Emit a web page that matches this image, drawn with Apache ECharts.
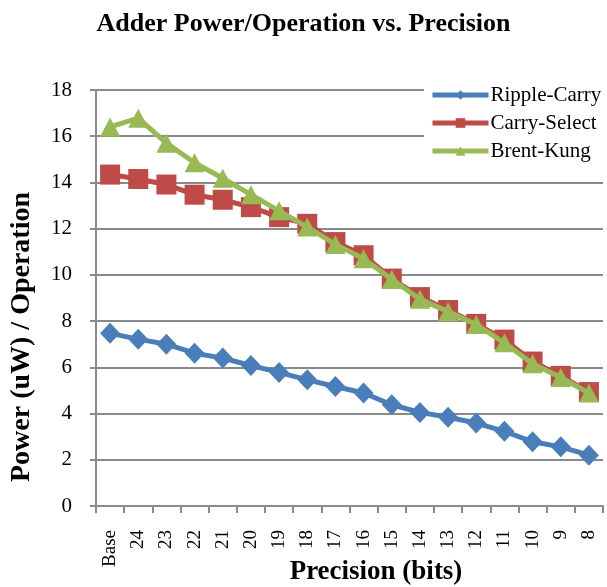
<!DOCTYPE html>
<html>
<head>
<meta charset="utf-8">
<script src="https://cdn.jsdelivr.net/npm/echarts@6/dist/echarts.min.js"></script>
<style>html,body{margin:0;padding:0;background:#fff;overflow:hidden}#c{width:607px;height:587px}</style>
</head>
<body>
<div id="c"></div>
<script>
const categories = ['Base','24','23','22','21','20','19','18','17','16','15','14','13','12','11','10','9','8'];
const rippleCarry = [7.47,7.22,7.0,6.61,6.4,6.08,5.78,5.46,5.17,4.89,4.38,4.05,3.84,3.59,3.23,2.78,2.56,2.2];
const carrySelect = [14.34,14.15,13.91,13.47,13.25,12.93,12.5,12.21,11.42,10.85,9.84,9.04,8.48,7.88,7.2,6.25,5.63,4.93];
const brentKung = [16.4,16.78,15.7,14.85,14.18,13.47,12.77,12.07,11.32,10.7,9.81,8.95,8.41,7.85,7.06,6.15,5.56,4.89];
const yTicks = [0,2,4,6,8,10,12,14,16,18];
const xAxisTitle = 'Precision (bits)';
const yAxisTitle = 'Power (uW) / Operation';

const serif = '"Liberation Serif","DejaVu Serif",serif';
const chart = echarts.init(document.getElementById('c'));
chart.setOption({
  animation: false,
  backgroundColor: '#fff',
  title: {
    text: 'Adder Power/Operation vs. Precision',
    left: 'center', top: 6,
    textStyle: {fontFamily: serif, fontWeight: 'bold', fontSize: 26, color: '#000'}
  },
  legend: {
    orient: 'vertical', left: 424, top: 82,
    backgroundColor: '#fff', padding: [2, 6, 8, 6],
    itemWidth: 56, itemHeight: 12, itemGap: 6,
    lineStyle: {width: 5},
    textStyle: {fontFamily: serif, fontSize: 21, lineHeight: 22, color: '#000', padding: [0,0,0,-3]},
    data: ['Ripple-Carry','Carry-Select','Brent-Kung']
  },
  graphic: [
    {type: 'text', x: 376, y: 572,
     style: {text: xAxisTitle, font: 'bold 27px "Liberation Serif", serif', fill: '#000',
             textAlign: 'center', textVerticalAlign: 'middle'}},
    {type: 'text', x: 22, y: 337, rotation: Math.PI / 2,
     style: {text: yAxisTitle, font: 'bold 28px "Liberation Serif", serif', fill: '#000',
             textAlign: 'center', textVerticalAlign: 'middle'}}
  ],
  grid: {left: 96, right: 4, top: 90, bottom: 81, containLabel: false, outerBoundsMode: 'none'},
  xAxis: {
    type: 'category', data: categories, boundaryGap: true,
    axisLine: {lineStyle: {color: '#8a8a8a', width: 2}},
    axisTick: {show: true, alignWithLabel: false, length: 7, lineStyle: {color: '#8a8a8a', width: 2}},
    axisLabel: {rotate: 90, fontFamily: serif, fontSize: 19, color: '#000', margin: 24}
  },
  yAxis: {
    type: 'value', min: yTicks[0], max: yTicks[yTicks.length-1], interval: 2,
    axisLine: {show: true, lineStyle: {color: '#8a8a8a', width: 2}},
    axisTick: {show: true, length: 6, lineStyle: {color: '#8a8a8a', width: 2}},
    splitLine: {lineStyle: {color: '#8a8a8a', width: 2}},
    axisLabel: {fontFamily: serif, fontSize: 21, color: '#000', margin: 24}
  },
  series: [
    {name: 'Ripple-Carry', type: 'line', data: rippleCarry, symbol: 'diamond', symbolSize: [20, 21],
     lineStyle: {width: 5, color: '#4a7ebb'}, itemStyle: {color: '#4a7ebb'}, z: 2},
    {name: 'Carry-Select', type: 'line', data: carrySelect, symbol: 'rect', symbolSize: 20,
     lineStyle: {width: 5, color: '#be4b48'}, itemStyle: {color: '#be4b48'}, z: 3},
    {name: 'Brent-Kung', type: 'line', data: brentKung, symbol: 'triangle', symbolSize: [20, 19],
     lineStyle: {width: 5, color: '#98b954'}, itemStyle: {color: '#98b954'}, z: 4}
  ]
});
</script>
</body>
</html>
